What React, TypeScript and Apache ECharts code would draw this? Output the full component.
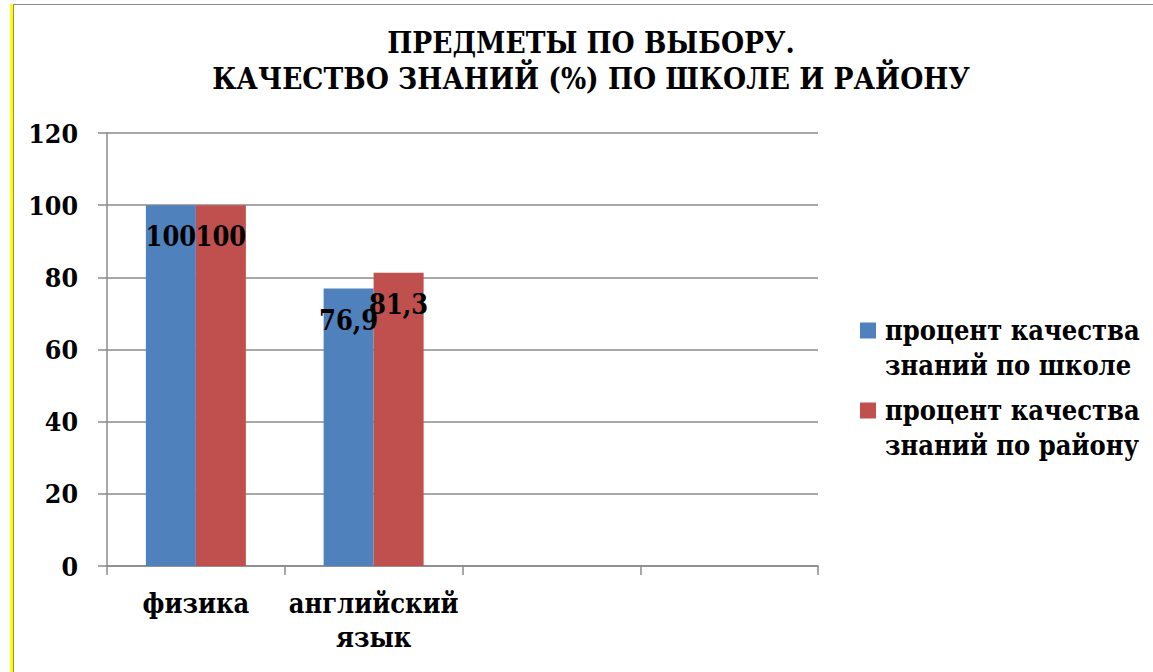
import React, { useEffect, useRef } from "react";
import * as echarts from "echarts";

const chartTitle = "ПРЕДМЕТЫ ПО ВЫБОРУ.\nКАЧЕСТВО ЗНАНИЙ (%) ПО ШКОЛЕ И РАЙОНУ";
const categories = ["физика", "английский\nязык", "", ""];
const schoolName = "процент качества\nзнаний по школе";
const districtName = "процент качества\nзнаний по району";
const schoolValues = [100, 76.9, null, null];
const districtValues = [100, 81.3, null, null];
const yTicks = { min: 0, max: 120, interval: 20 };

const FONT = "'DejaVu Serif Condensed', 'DejaVu Serif', serif";
const GRID_COLOR = "#8a8a8a";
// square swatch in the upper part of a taller, transparent box
const SWATCH = "path://M0,0h10v10h-10z M12.5,31.875";

export default function App() {
  const ref = useRef<HTMLDivElement>(null);

  useEffect(() => {
    if (!ref.current) return;
    const chart = echarts.init(ref.current, null, { renderer: "svg" });
    const valueLabel = {
      show: true,
      position: "insideTop" as const,
      distance: 16,
      color: "#000",
      fontFamily: FONT,
      fontWeight: "bold" as const,
      fontSize: 27,
      lineHeight: 31,
      formatter: (p: any) => String(p.value).replace(".", ","),
    };
    chart.setOption({
      animation: false,
      backgroundColor: "#fff",
      title: {
        text: chartTitle,
        // explicit textAlign: lines are centred on the `left` coordinate
        left: 591,
        top: 24,
        padding: 0,
        textAlign: "center",
        textStyle: {
          fontFamily: FONT,
          fontWeight: "bold",
          fontSize: 29.5,
          lineHeight: 36,
          color: "#000",
        },
      },
      legend: {
        orient: "vertical",
        left: 860,
        top: 313,
        padding: 0,
        itemGap: 10,
        itemWidth: 20,
        itemHeight: 51,
        icon: SWATCH,
        textStyle: {
          fontFamily: FONT,
          fontWeight: "bold",
          fontSize: 27,
          lineHeight: 35,
          color: "#000",
        },
        data: [schoolName, districtName],
      },
      grid: { left: 107, right: 335, top: 133, bottom: 106, containLabel: false },
      xAxis: {
        type: "category",
        data: categories,
        axisLine: { lineStyle: { color: GRID_COLOR, width: 1.5 } },
        axisTick: { show: true, length: 9, lineStyle: { color: GRID_COLOR, width: 1.5 } },
        axisLabel: {
          interval: 0,
          margin: 20,
          color: "#000",
          fontFamily: FONT,
          fontWeight: "bold",
          fontSize: 27,
          lineHeight: 34,
        },
      },
      yAxis: {
        type: "value",
        min: yTicks.min,
        max: yTicks.max,
        interval: yTicks.interval,
        axisLine: { show: true, lineStyle: { color: GRID_COLOR, width: 1.5 } },
        axisTick: { show: true, length: 9, lineStyle: { color: GRID_COLOR, width: 1.5 } },
        splitLine: { lineStyle: { color: GRID_COLOR, width: 1.5 } },
        axisLabel: {
          margin: 29,
          color: "#000",
          fontFamily: FONT,
          fontWeight: "bold",
          fontSize: 26.5,
        },
      },
      series: [
        {
          name: schoolName,
          type: "bar",
          data: schoolValues,
          barWidth: 50,
          barGap: "0%",
          itemStyle: { color: "#4F81BD" },
          label: valueLabel,
        },
        {
          name: districtName,
          type: "bar",
          data: districtValues,
          barWidth: 50,
          barGap: "0%",
          itemStyle: { color: "#C0504D" },
          label: valueLabel,
        },
      ],
      graphic: [
        { type: "rect", shape: { x: 10, y: 4, width: 3, height: 668 }, style: { fill: "#FFFF00" }, silent: true },
        { type: "line", shape: { x1: 13.5, y1: 4, x2: 13.5, y2: 672 }, style: { stroke: "#8a8a8a", lineWidth: 1 }, silent: true },
        { type: "line", shape: { x1: 13, y1: 4.5, x2: 1153, y2: 4.5 }, style: { stroke: "#8a8a8a", lineWidth: 1 }, silent: true },
      ],
    });
    return () => chart.dispose();
  }, []);

  return (
    <div
      ref={ref}
      style={{ position: "fixed", left: 0, top: 0, width: 1153, height: 672 }}
    />
  );
}
